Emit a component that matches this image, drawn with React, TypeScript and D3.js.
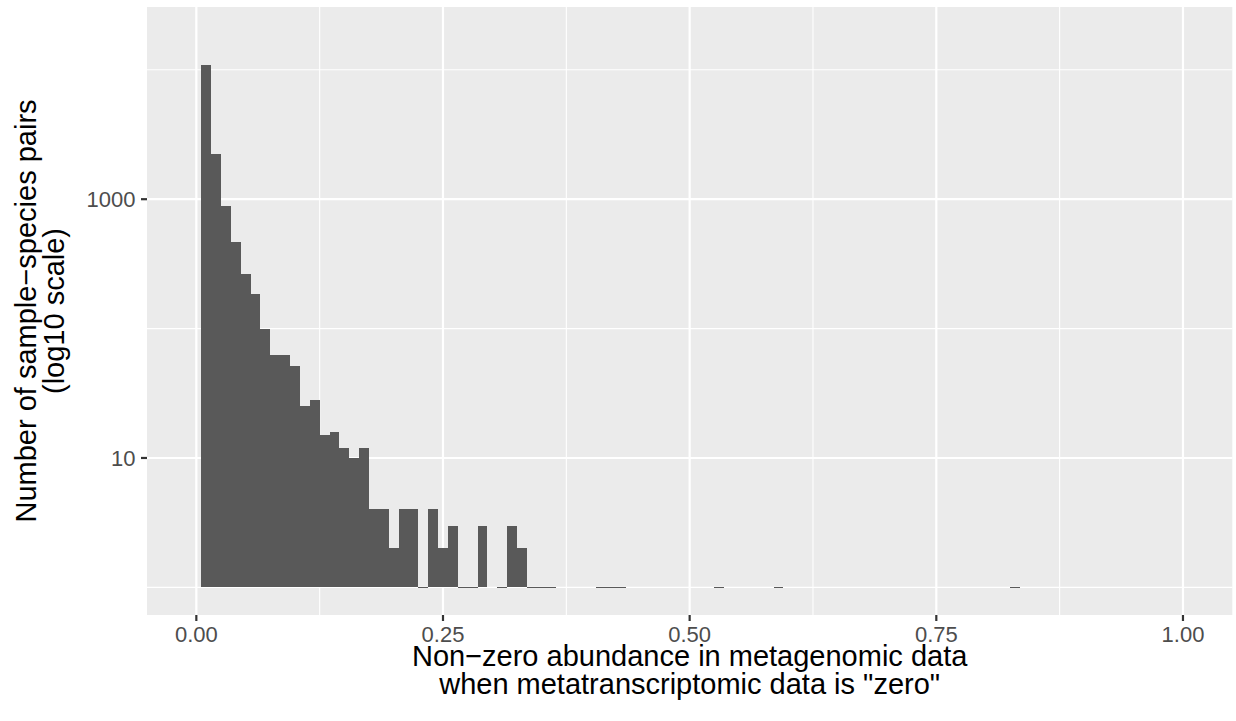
import { useEffect, useRef } from 'react';
import * as d3 from 'd3';

// histogram bins (centre of each 0.01-wide bin) and their counts, empty bins left out
const binCenters = [
  0.01, 0.02, 0.03, 0.04, 0.05, 0.06, 0.07, 0.08, 0.09, 0.10,
  0.11, 0.12, 0.13, 0.14, 0.15, 0.16, 0.17, 0.18, 0.19, 0.20,
  0.21, 0.22, 0.23, 0.24, 0.25, 0.26, 0.27, 0.28, 0.29, 0.31,
  0.32, 0.33, 0.34, 0.35, 0.36, 0.41, 0.42, 0.43, 0.53, 0.59, 0.83,
];
const binCounts = [
  10800, 2250, 880, 470, 263, 184, 99, 62, 62, 51,
  25, 28, 15, 16, 12, 10, 12, 4, 4, 2,
  4, 4, 1, 4, 2, 3, 1, 1, 3, 1,
  3, 2, 1, 1, 1, 1, 1, 1, 1, 1, 1,
];
const binWidth = 0.01;
// the bin at 0 falls outside xlim(0, 1) and is not drawn, but it still sets the y range
const droppedBinCount = 18700;

const xLimits = [0, 1];
const xMajorTicks = [0, 0.25, 0.5, 0.75, 1];
const xMinorTicks = [0.125, 0.375, 0.625, 0.875];
const yMajorTicks = [10, 1000];
const yMinorTicks = [1, 100, 10000];

const xTitle = ['Non\u2212zero abundance in metagenomic data', 'when metatranscriptomic data is "zero"'];
const yTitle = ['Number of sample\u2212species pairs', '(log10 scale)'];

const WIDTH = 1236;
const HEIGHT = 721;
const FONT = '"Liberation Sans", Arial, Helvetica, sans-serif';

export default function App() {
  const svgRef = useRef<SVGSVGElement>(null);

  useEffect(() => {
    if (!svgRef.current) return;
    const svg = d3.select(svgRef.current);
    svg.selectAll('*').remove();

    const panel = { left: 147, right: 1232.3, top: 7, bottom: 615 };

    const xSpan = xLimits[1] - xLimits[0];
    const x = d3.scaleLinear()
      .domain([xLimits[0] - 0.05 * xSpan, xLimits[1] + 0.05 * xSpan])
      .range([panel.left, panel.right]);

    const logMax = Math.log10(d3.max([droppedBinCount, ...binCounts]) as number);
    const y = d3.scaleLog()
      .domain([Math.pow(10, -0.05 * logMax), Math.pow(10, 1.05 * logMax)])
      .range([panel.bottom, panel.top]);

    // panel
    svg.append('rect')
      .attr('x', panel.left)
      .attr('y', panel.top)
      .attr('width', panel.right - panel.left)
      .attr('height', panel.bottom - panel.top)
      .attr('fill', '#EBEBEB');

    // grid
    const grid = svg.append('g').attr('stroke', 'white');
    grid.selectAll('.xminor').data(xMinorTicks).enter().append('line')
      .attr('x1', d => x(d)).attr('x2', d => x(d))
      .attr('y1', panel.top).attr('y2', panel.bottom)
      .attr('stroke-width', 1.1);
    grid.selectAll('.yminor').data(yMinorTicks).enter().append('line')
      .attr('x1', panel.left).attr('x2', panel.right)
      .attr('y1', d => y(d)).attr('y2', d => y(d))
      .attr('stroke-width', 1.1);
    grid.selectAll('.xmajor').data(xMajorTicks).enter().append('line')
      .attr('x1', d => x(d)).attr('x2', d => x(d))
      .attr('y1', panel.top).attr('y2', panel.bottom)
      .attr('stroke-width', 2.2);
    grid.selectAll('.ymajor').data(yMajorTicks).enter().append('line')
      .attr('x1', panel.left).attr('x2', panel.right)
      .attr('y1', d => y(d)).attr('y2', d => y(d))
      .attr('stroke-width', 2.2);

    // bars (count 1 has zero height on the log scale, drawn as a hairline)
    const bins = binCenters.map((c, i) => ({ c, n: binCounts[i] }));
    svg.append('g').selectAll('rect').data(bins).enter().append('rect')
      .attr('x', d => x(d.c - binWidth / 2))
      .attr('width', d => x(d.c + binWidth / 2) - x(d.c - binWidth / 2))
      .attr('y', d => (d.n > 1 ? y(d.n) : y(1) - 0.6))
      .attr('height', d => (d.n > 1 ? y(1) - y(d.n) : 1.2))
      .attr('fill', '#595959')
      .attr('shape-rendering', 'crispEdges');

    // axis ticks
    const tickLen = 6;
    svg.append('g').selectAll('line').data(xMajorTicks).enter().append('line')
      .attr('x1', d => x(d)).attr('x2', d => x(d))
      .attr('y1', panel.bottom).attr('y2', panel.bottom + tickLen)
      .attr('stroke', '#333333').attr('stroke-width', 2.2);
    svg.append('g').selectAll('line').data(yMajorTicks).enter().append('line')
      .attr('x1', panel.left - tickLen).attr('x2', panel.left)
      .attr('y1', d => y(d)).attr('y2', d => y(d))
      .attr('stroke', '#333333').attr('stroke-width', 2.2);

    // tick labels
    const tickSize = 22;
    svg.append('g').selectAll('text').data(xMajorTicks).enter().append('text')
      .attr('x', d => x(d))
      .attr('y', panel.bottom + tickLen + 5 + tickSize * 0.72)
      .attr('text-anchor', 'middle')
      .attr('font-family', FONT)
      .attr('font-size', tickSize)
      .attr('fill', '#4D4D4D')
      .text(d => d3.format('.2f')(d));
    svg.append('g').selectAll('text').data(yMajorTicks).enter().append('text')
      .attr('x', panel.left - tickLen - 5.5)
      .attr('y', d => y(d) + tickSize * 0.36)
      .attr('text-anchor', 'end')
      .attr('font-family', FONT)
      .attr('font-size', tickSize)
      .attr('fill', '#4D4D4D')
      .text(d => String(d));

    // axis titles
    const titleSize = 29;
    const cx = (panel.left + panel.right) / 2;
    svg.append('g').selectAll('text').data(xTitle).enter().append('text')
      .attr('x', cx)
      .attr('y', (d, i) => 666 + i * 28)
      .attr('text-anchor', 'middle')
      .attr('font-family', FONT)
      .attr('font-size', titleSize)
      .attr('fill', 'black')
      .text(d => d);

    const cy = (panel.top + panel.bottom) / 2;
    svg.append('g').selectAll('text').data(yTitle).enter().append('text')
      .attr('transform', (d, i) => `translate(${36 + i * 28},${cy}) rotate(-90)`)
      .attr('text-anchor', 'middle')
      .attr('font-family', FONT)
      .attr('font-size', titleSize)
      .attr('fill', 'black')
      .text(d => d);
  }, []);

  return (
    <div style={{ position: 'absolute', left: 0, top: 0, background: 'white' }}>
      <svg ref={svgRef} width={WIDTH} height={HEIGHT} style={{ display: 'block' }}></svg>
    </div>
  );
}
